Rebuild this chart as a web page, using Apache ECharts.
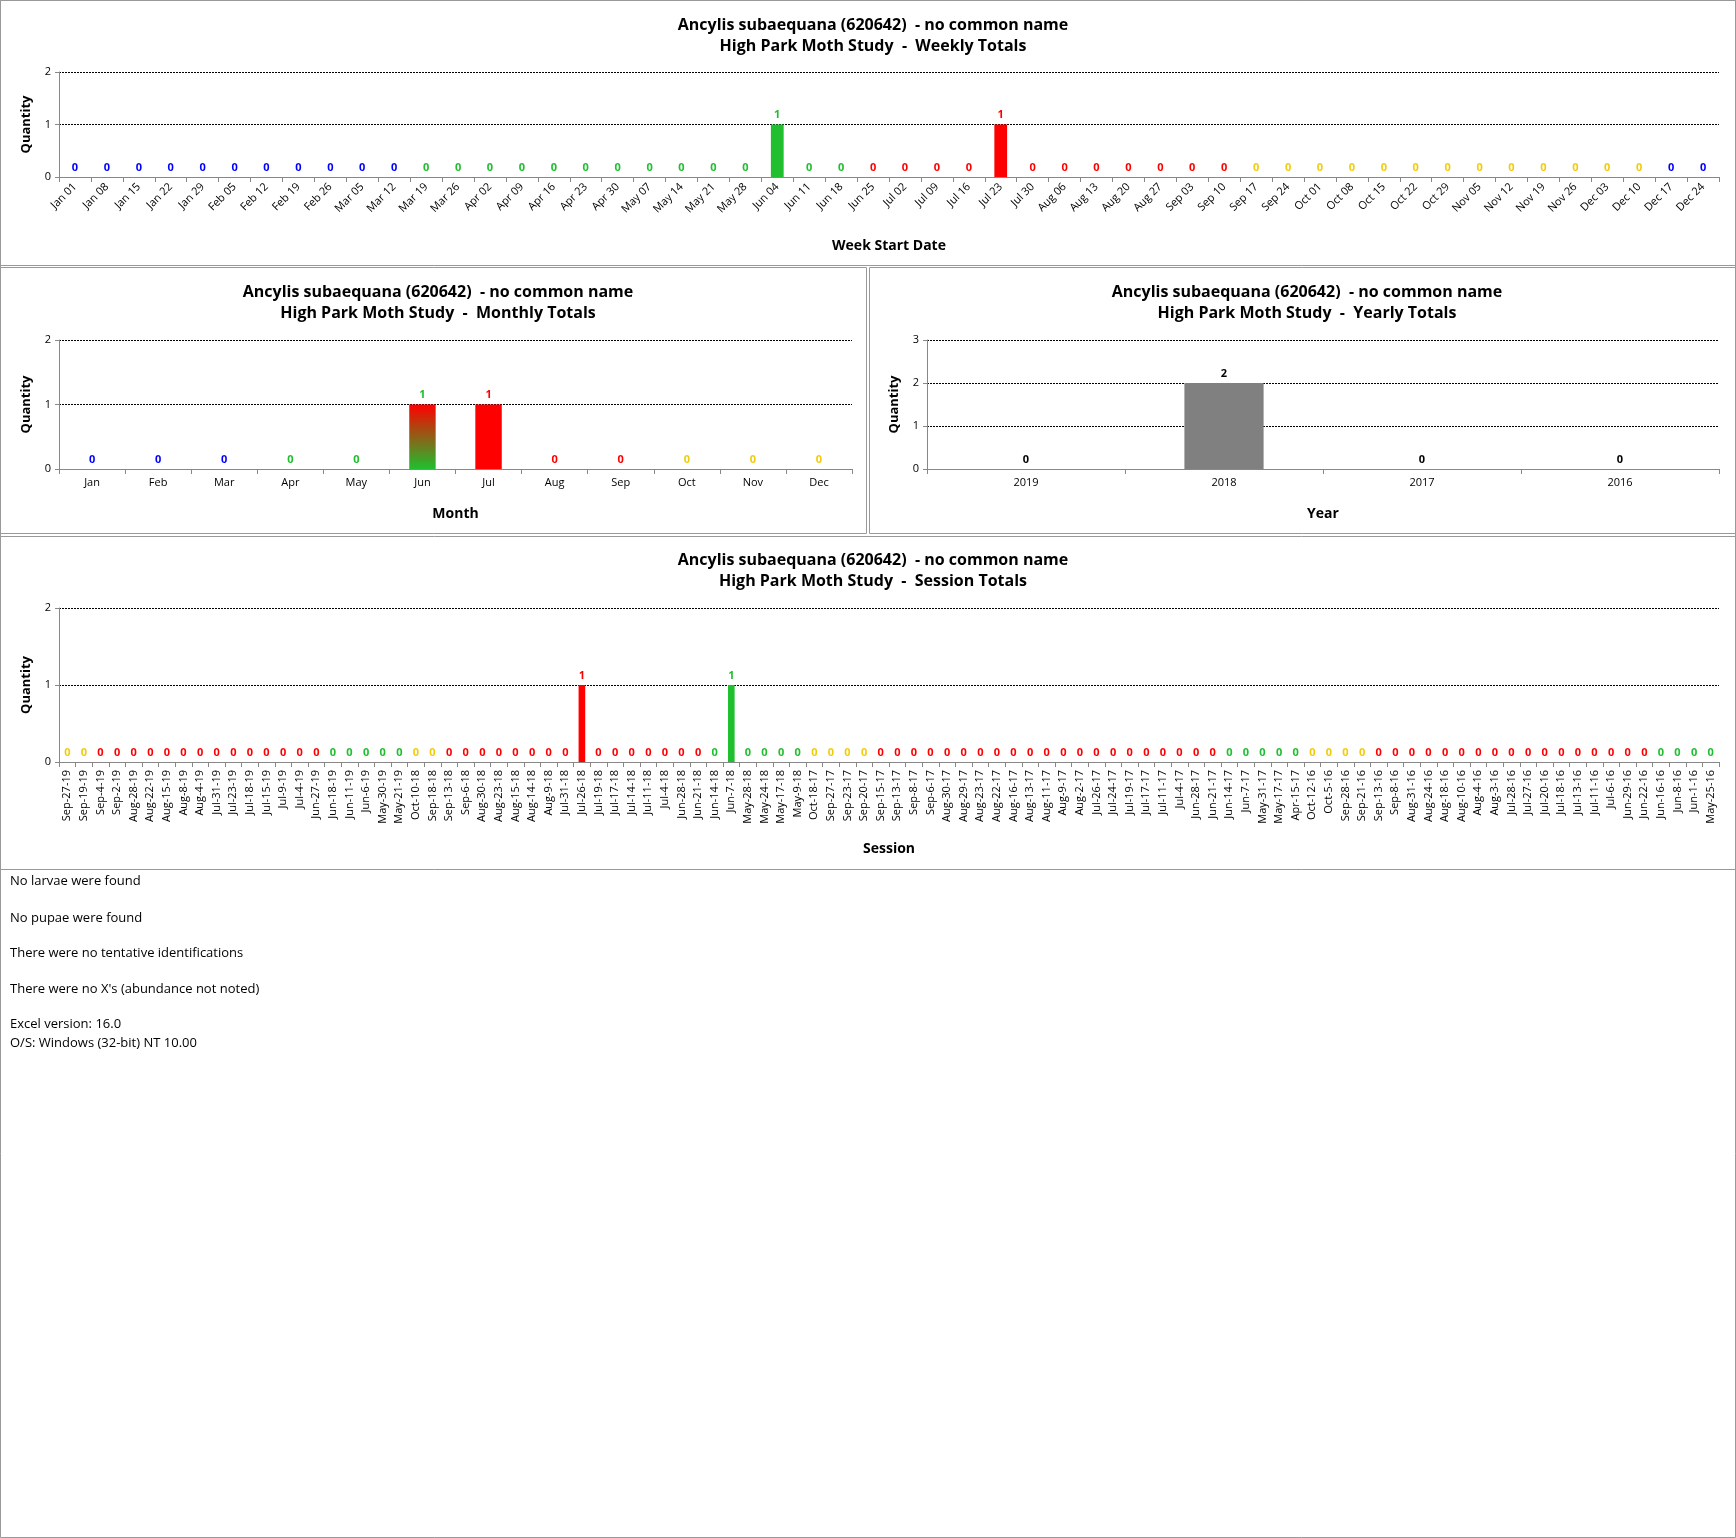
<!DOCTYPE html>
<html><head><meta charset="utf-8">
<script src="https://cdn.jsdelivr.net/npm/echarts@6/dist/echarts.min.js"></script>
<style>
body{margin:0;background:#fff;}
#c{width:1736px;height:1538px;}
</style></head>
<body><div id="c"></div>
<script>
const weeks = ['Jan 01','Jan 08','Jan 15','Jan 22','Jan 29','Feb 05','Feb 12','Feb 19','Feb 26','Mar 05','Mar 12','Mar 19','Mar 26','Apr 02','Apr 09','Apr 16','Apr 23','Apr 30','May 07','May 14','May 21','May 28','Jun 04','Jun 11','Jun 18','Jun 25','Jul 02','Jul 09','Jul 16','Jul 23','Jul 30','Aug 06','Aug 13','Aug 20','Aug 27','Sep 03','Sep 10','Sep 17','Sep 24','Oct 01','Oct 08','Oct 15','Oct 22','Oct 29','Nov 05','Nov 12','Nov 19','Nov 26','Dec 03','Dec 10','Dec 17','Dec 24'];
const weekValues = weeks.map(w => (w === 'Jun 04' || w === 'Jul 23') ? 1 : 0);

const months = ['Jan','Feb','Mar','Apr','May','Jun','Jul','Aug','Sep','Oct','Nov','Dec'];
const monthValues = [0,0,0,0,0,1,1,0,0,0,0,0];

const years = ['2019','2018','2017','2016'];
const yearValues = [0,2,0,0];

const sessions = ['Sep-27-19','Sep-19-19','Sep-4-19','Sep-2-19','Aug-28-19','Aug-22-19','Aug-15-19','Aug-8-19','Aug-4-19','Jul-31-19','Jul-23-19','Jul-18-19','Jul-15-19','Jul-9-19','Jul-4-19','Jun-27-19','Jun-18-19','Jun-11-19','Jun-6-19','May-30-19','May-21-19','Oct-10-18','Sep-18-18','Sep-13-18','Sep-6-18','Aug-30-18','Aug-23-18','Aug-15-18','Aug-14-18','Aug-9-18','Jul-31-18','Jul-26-18','Jul-19-18','Jul-17-18','Jul-14-18','Jul-11-18','Jul-4-18','Jun-28-18','Jun-21-18','Jun-14-18','Jun-7-18','May-28-18','May-24-18','May-17-18','May-9-18','Oct-18-17','Sep-27-17','Sep-23-17','Sep-20-17','Sep-15-17','Sep-13-17','Sep-8-17','Sep-6-17','Aug-30-17','Aug-29-17','Aug-23-17','Aug-22-17','Aug-16-17','Aug-13-17','Aug-11-17','Aug-9-17','Aug-2-17','Jul-26-17','Jul-24-17','Jul-19-17','Jul-17-17','Jul-11-17','Jul-4-17','Jun-28-17','Jun-21-17','Jun-14-17','Jun-7-17','May-31-17','May-17-17','Apr-15-17','Oct-12-16','Oct-5-16','Sep-28-16','Sep-21-16','Sep-13-16','Sep-8-16','Aug-31-16','Aug-24-16','Aug-18-16','Aug-10-16','Aug-4-16','Aug-3-16','Jul-28-16','Jul-27-16','Jul-20-16','Jul-18-16','Jul-13-16','Jul-11-16','Jul-6-16','Jun-29-16','Jun-22-16','Jun-16-16','Jun-8-16','Jun-1-16','May-25-16'];
const sessionValues = sessions.map(s => (s === 'Jul-26-18' || s === 'Jun-7-18') ? 1 : 0);

const notes = ['No larvae were found','No pupae were found','There were no tentative identifications',"There were no X's (abundance not noted)",'Excel version: 16.0','O/S: Windows (32-bit) NT 10.00'];

const BLUE = '#0000ff', GREEN = '#1fbf2f', RED = '#ff0000', YELLOW = '#f2cc0c';
const MI = {Jan:0,Feb:1,Mar:2,Apr:3,May:4,Jun:5,Jul:6,Aug:7,Sep:8,Oct:9,Nov:10,Dec:11};
function season(m, d) {
  if (m < 2 || (m === 2 && d < 15) || (m === 11 && d > 14)) return BLUE;
  if (m < 5 || (m === 5 && d < 19)) return GREEN;
  if (m < 8 || (m === 8 && d < 17)) return RED;
  return YELLOW;
}
const weekColor = w => season(MI[w.slice(0,3)], +w.slice(4));
const sessColor = s => { const p = s.split('-'); return season(MI[p[0]], +p[1]); };
const monthColor = i => [BLUE,GREEN,RED,YELLOW][Math.floor(i/3)];

const FONT = 'Open Sans';
const title = (t, x, y) => ({
  text: 'Ancylis subaequana (620642)  - no common name',
  subtext: 'High Park Moth Study  -  ' + t,
  left: x, top: y, textAlign: 'center',
  textStyle: {fontFamily: FONT, fontSize: 16, fontWeight: 'bold', color: '#000'},
  subtextStyle: {fontFamily: FONT, fontSize: 16, fontWeight: 'bold', color: '#000'},
  itemGap: 5
});
const grids = [
  {left: 59, width: 1660, top: 72, height: 105},
  {left: 59, width: 793, top: 340, height: 129},
  {left: 927, width: 792, top: 340, height: 129},
  {left: 59, width: 1660, top: 608, height: 154}
];
const xAxis = (i, data, name, gap, rot) => ({
  type: 'category', gridIndex: i, data, name, nameLocation: 'middle', nameGap: gap,
  nameTextStyle: {fontFamily: FONT, fontWeight: 'bold', fontSize: 14, color: '#000'},
  axisLine: {lineStyle: {color: '#888'}},
  axisTick: {show: true, lineStyle: {color: '#888'}, length: 5},
  axisLabel: {rotate: rot, fontFamily: FONT, fontSize: 11, color: '#000', interval: 0, margin: 8}
});
const yAxis = (i, max) => ({
  type: 'value', gridIndex: i, min: 0, max, interval: 1, name: 'Quantity', nameLocation: 'middle', nameGap: 26,
  nameTextStyle: {fontFamily: FONT, fontWeight: 'bold', fontSize: 13, color: '#000'},
  axisLine: {show: true, lineStyle: {color: '#888'}},
  axisTick: {show: true, lineStyle: {color: '#888'}, length: 4},
  axisLabel: {fontFamily: FONT, fontSize: 11, color: '#000'},
  splitLine: {lineStyle: {color: '#000', type: [2, 1], width: 1}}
});
const item = (v, col, barCol) => ({
  value: v,
  itemStyle: {color: barCol || col},
  label: {color: col}
});
const barSeries = (i, data) => ({
  type: 'bar', xAxisIndex: i, yAxisIndex: i, barWidth: '40%', data,
  label: {show: true, position: 'top', distance: 4, fontFamily: FONT, fontSize: 11, fontWeight: 'bold'}
});

const junGrad = new echarts.graphic.LinearGradient(0, 0, 0, 1, [{offset: 0, color: '#ff0000'}, {offset: 1, color: '#1fbf2f'}]);

const box = (x, y, w, h) => ({type: 'rect', shape: {x: x + 0.5, y: y + 0.5, width: w, height: h}, style: {fill: null, stroke: '#999', lineWidth: 1}, silent: true});
const graphics = [
  box(0, 0, 1735, 1537), box(0, 0, 1735, 265), box(0, 267, 866, 266), box(869, 267, 866, 266), box(0, 536, 1735, 333)
];
const noteY = [883, 920, 955, 991, 1026, 1045];
notes.forEach((t, i) => graphics.push({type: 'text', left: 10, top: noteY[i] - 8, style: {text: t, font: '13px "Open Sans"', fill: '#000'}}));

const chart = echarts.init(document.getElementById('c'));
chart.setOption({
  animation: false,
  title: [title('Weekly Totals', 868, 12), title('Monthly Totals', 433, 279), title('Yearly Totals', 1302, 279), title('Session Totals', 868, 547)],
  grid: grids,
  xAxis: [
    xAxis(0, weeks, 'Week Start Date', 62, 45),
    xAxis(1, months, 'Month', 38, 0),
    xAxis(2, years, 'Year', 38, 0),
    xAxis(3, sessions, 'Session', 80, 90)
  ],
  yAxis: [yAxis(0, 2), yAxis(1, 2), yAxis(2, 3), yAxis(3, 2)],
  series: [
    barSeries(0, weeks.map((w, i) => item(weekValues[i], weekColor(w)))),
    barSeries(1, months.map((m, i) => item(monthValues[i], monthColor(i), m === 'Jun' ? junGrad : null))),
    barSeries(2, years.map((y, i) => item(yearValues[i], '#000', '#808080'))),
    barSeries(3, sessions.map((s, i) => item(sessionValues[i], sessColor(s))))
  ],
  graphic: graphics
});
</script></body></html>
